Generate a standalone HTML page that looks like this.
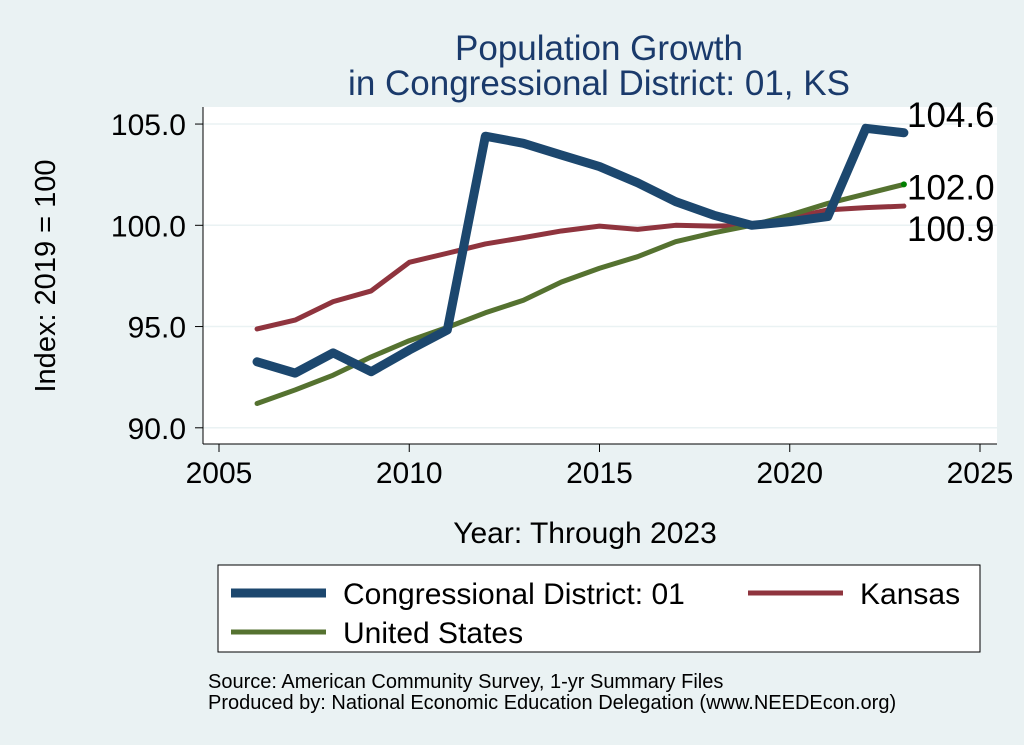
<!DOCTYPE html>
<html><head><meta charset="utf-8"><style>
body{margin:0;background:#eaf2f3;}
svg{display:block;font-family:"Liberation Sans",Arial,sans-serif;}
</style></head><body>
<svg width="1024" height="745" viewBox="0 0 1024 745">
<rect x="0" y="0" width="1024" height="745" fill="#eaf2f3"/>
<rect x="203" y="107" width="794" height="337" fill="#fff"/>
<g fill="#1a3a6b" font-size="35" text-anchor="middle">
<text x="599" y="60">Population Growth</text>
<text x="599" y="95">in Congressional District: 01, KS</text>
</g>
<g id="grid"></g>
<g id="axes"></g>
<g id="series"></g>
<g id="labels"></g>
<text x="55" y="276" font-size="29" text-anchor="middle" transform="rotate(-90 55 276)">Index: 2019 = 100</text>
<text x="585" y="543" font-size="30" text-anchor="middle">Year: Through 2023</text>
<g>
<rect x="218" y="565" width="762" height="87" fill="#fff" stroke="#000" stroke-width="1"/>
<g><line x1="231" y1="593" x2="326" y2="593" stroke="#1c476e" stroke-width="9"/><text x="343" y="604" font-size="30">Congressional District: 01</text></g>
<g><line x1="748" y1="593" x2="843" y2="593" stroke="#8f343e" stroke-width="5"/><text x="860" y="604" font-size="30">Kansas</text></g>
<g><line x1="231" y1="632" x2="326" y2="632" stroke="#557230" stroke-width="5"/><text x="343" y="643" font-size="30">United States</text></g>
</g>
<g font-size="20">
<text x="208" y="688">Source: American Community Survey, 1-yr Summary Files</text>
<text x="208" y="709">Produced by: National Economic Education Delegation (www.NEEDEcon.org)</text>
</g>
</svg>
<script>
const years=[2006,2007,2008,2009,2010,2011,2012,2013,2014,2015,2016,2017,2018,2019,2020,2021,2022,2023];
const district=[93.26,92.7,93.7,92.77,93.84,94.83,104.4,104.05,103.47,102.9,102.1,101.17,100.5,100.0,100.18,100.43,104.79,104.57];
const kansas=[94.88,95.32,96.23,96.76,98.17,98.62,99.08,99.39,99.72,99.96,99.8,100.0,99.96,100.0,100.35,100.76,100.87,100.95];
const us=[91.2,91.87,92.6,93.5,94.3,94.96,95.68,96.3,97.2,97.88,98.45,99.19,99.63,100.0,100.5,101.08,101.55,102.02];
const yTicks=[90,95,100,105];
const yTickLabels=["90.0","95.0","100.0","105.0"];
const xTicks=[2005,2010,2015,2020,2025];
const endLabels=["104.6","102.0","100.9"];
const NS="http://www.w3.org/2000/svg";
const xs=v=>219+(v-2005)*38.05;
const ys=v=>225.3-(v-100)*20.25;
function mk(tag,attrs,parent){const e=document.createElementNS(NS,tag);for(const k in attrs)e.setAttribute(k,attrs[k]);document.getElementById(parent).appendChild(e);return e;}
yTicks.forEach((t,i)=>{
 const g=mk('line',{x1:203,x2:997,y1:ys(t),y2:ys(t),stroke:'#eaf2f3','stroke-width':1.5},'grid');
 
 
 const tk=mk('line',{x1:195,x2:203,y1:ys(t),y2:ys(t),stroke:'#000','stroke-width':1},'axes');
 
 
 const tx=mk('text',{x:186,y:ys(t)+11,'font-size':30,'text-anchor':'end'},'axes');
 tx.textContent=yTickLabels[i];
 
 
});
xTicks.forEach(t=>{
 const tk=mk('line',{x1:xs(t),x2:xs(t),y1:444,y2:452,stroke:'#000','stroke-width':1},'axes');
 
 
 const tx=mk('text',{x:xs(t),y:483,'font-size':30,'text-anchor':'middle'},'axes');
 tx.textContent=t;
 
 
});
const ya=mk('line',{x1:203,x2:203,y1:107,y2:444,stroke:'#000','stroke-width':1},'axes');


const xa=mk('line',{x1:203,x2:997,y1:444,y2:444,stroke:'#000','stroke-width':1},'axes');


function line(vals,color,w,name){
 const p=mk('polyline',{points:years.map((y,i)=>xs(y)+','+ys(vals[i])).join(' '),fill:'none',stroke:color,'stroke-width':w,'stroke-linejoin':'round','stroke-linecap':'round'},'series');
 
 
}
line(kansas,'#8f343e',5,'kansas-line');
line(us,'#557230',5,'us-line');
line(district,'#1c476e',9,'district-line');
const last=years.length-1;
const dot=mk('circle',{cx:xs(years[last]),cy:ys(us[last]),r:3,fill:'#008000'},'series');


const lv=[district[last],us[last],kansas[last]];
const off=[-6,15,35];
lv.forEach((v,i)=>{
 const t=mk('text',{x:907,y:ys(v)+off[i],'font-size':35},'labels');
 t.textContent=endLabels[i];
 
 
});
</script>
</body></html>
